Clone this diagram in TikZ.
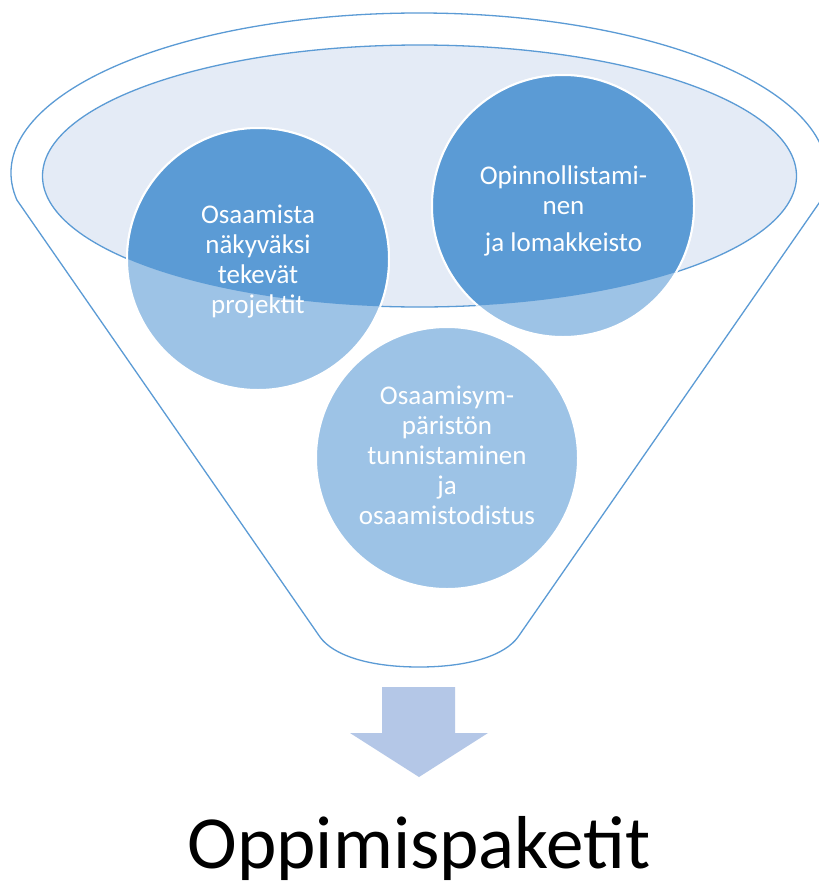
\documentclass[tikz,border=0pt]{standalone}
\usepackage{fontspec}
\setmainfont{Carlito}
\definecolor{fblue}{HTML}{5B9BD5}
\definecolor{lblue}{HTML}{9DC3E6}
\definecolor{efill}{HTML}{E4EBF6}
\definecolor{ablue}{HTML}{B4C7E7}
\begin{document}
\begin{tikzpicture}[x=1pt,y=1pt,
  outline/.style={draw=fblue,line width=1.3pt},
  bubble/.style={circle,minimum size=262pt,inner sep=0pt,fill=lblue,draw=white,line width=2pt},
  bubbletext/.style={text=white,align=center,font=\fontsize{27}{30}\selectfont},
  bigtext/.style={font=\fontsize{75}{90}\selectfont,anchor=base,inner sep=0pt},
]
\clip (0,0) rectangle (819,-881);
\fill[white] (0,0) rectangle (819,-881);
% funnel outline
\draw[outline,fill=white] (16.9,-200)
  arc[start angle=189.72,end angle=-9.72,x radius=408pt,y radius=160pt]
  -- (518,-637) .. controls (505,-655) and (470,-667) .. (419,-667)
  .. controls (368,-667) and (333,-655) .. (320,-637) -- cycle;
% inner ellipse
\draw[outline,fill=efill] (419.5,-176) ellipse[x radius=377pt,y radius=131pt];
% circles
\node[bubble] (c1) at (258,-259) {};
\node[bubble] (c2) at (563,-206) {};
\node[bubble] (c3) at (447,-458) {};
\begin{scope}
  \clip (419.5,-176) ellipse[x radius=377pt,y radius=131pt];
  \foreach \c in {c1,c2,c3}
    \draw[fill=fblue,draw=white,line width=2pt] (\c.center) circle[radius=131pt];
\end{scope}
% texts
\node[bubbletext] (t1) at (258,-262) {Osaamista\\näkyväksi\\tekevät\\projektit};
\node[bubbletext] (t2) at (563.5,-211) {Opinnollistami-\\nen\\[7pt]ja lomakkeisto};
\node[bubbletext] (t3) at (447,-455) {Osaamisym-\\päristön\\tunnistaminen\\ja\\osaamistodistus};
% arrow
\fill[ablue] (382,-687) -- (455,-687) -- (455,-733) -- (488,-733) -- (419,-777)
  -- (350,-733) -- (382,-733) -- cycle;
% title
\node[bigtext] (title) at (419,-868) {Oppimispaketit};
\end{tikzpicture}
\end{document}
